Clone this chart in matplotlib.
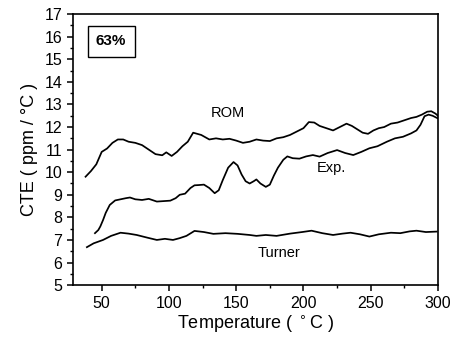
import matplotlib.pyplot as plt
from matplotlib.ticker import MultipleLocator

plt.rcParams['font.family'] = ['Liberation Sans', 'DejaVu Sans']

# ROM model prediction
rom_t = [38, 42, 46, 50, 54, 58, 62, 66, 70, 75, 80, 85, 90, 95, 98, 102, 106,
         110, 114, 118, 121, 124, 127, 130, 135, 140, 145, 150, 155, 160, 165,
         170, 175, 180, 185, 190, 195, 200, 204, 208, 212, 217, 222, 227, 232,
         236, 240, 244, 248, 252, 256, 260, 265, 270, 275, 280, 284, 288, 292,
         295, 298, 300]
rom_cte = [9.8, 10.05, 10.35, 10.9, 11.05, 11.3, 11.45, 11.45, 11.35, 11.3,
           11.2, 11.0, 10.8, 10.75, 10.88, 10.72, 10.9, 11.15, 11.35, 11.75,
           11.7, 11.65, 11.55, 11.45, 11.5, 11.45, 11.48, 11.4, 11.3, 11.35,
           11.45, 11.4, 11.38, 11.5, 11.55, 11.65, 11.8, 11.95, 12.22, 12.2,
           12.05, 11.95, 11.85, 12.0, 12.15, 12.05, 11.9, 11.75, 11.7, 11.85,
           11.95, 12.0, 12.15, 12.2, 12.3, 12.4, 12.45, 12.55, 12.68, 12.7,
           12.6, 12.5]

# experimental data
exp_t = [45, 47.5, 49, 51, 53, 56, 60, 64, 68, 71, 75, 80, 85, 91, 96, 101,
         105, 108, 112, 116, 119, 122, 126, 130, 134, 137, 140, 144, 148, 151,
         154, 157, 160, 163, 165, 168, 172, 175, 178, 181, 185, 188, 192, 197,
         202, 207, 212, 218, 225, 231, 237, 243, 249, 255, 262, 268, 274, 280,
         284, 287, 290, 293, 296, 300]
exp_cte = [7.3, 7.44, 7.6, 7.88, 8.2, 8.55, 8.75, 8.8, 8.85, 8.88, 8.8, 8.77,
           8.82, 8.7, 8.72, 8.74, 8.85, 9.0, 9.05, 9.3, 9.42, 9.43, 9.45, 9.3,
           9.07, 9.2, 9.65, 10.2, 10.45, 10.3, 9.9, 9.6, 9.5, 9.6, 9.68, 9.5,
           9.35, 9.45, 9.85, 10.2, 10.55, 10.7, 10.62, 10.6, 10.7, 10.76, 10.69,
           10.85, 10.98, 10.85, 10.76, 10.9, 11.06, 11.15, 11.35, 11.5, 11.57,
           11.72, 11.85, 12.1, 12.48, 12.55, 12.5, 12.38]

# Turner model prediction
turner_t = [39, 44, 51, 57, 64, 70, 76, 84, 91, 97, 103, 108, 113, 119, 126,
            133, 142, 151, 160, 165, 172, 180, 190, 199, 206, 214, 222, 229,
            235, 242, 249, 256, 265, 272, 279, 284, 291, 299]
turner_cte = [6.68, 6.85, 7.0, 7.18, 7.32, 7.28, 7.22, 7.1, 7.0, 7.05, 7.0,
              7.08, 7.18, 7.4, 7.35, 7.27, 7.3, 7.27, 7.22, 7.18, 7.22, 7.18,
              7.28, 7.35, 7.41, 7.3, 7.22, 7.28, 7.32, 7.25, 7.15, 7.25, 7.32,
              7.3, 7.38, 7.41, 7.35, 7.37]

fig = plt.figure(figsize=(4.52, 3.37), dpi=100)
ax = fig.add_axes([0.161, 0.154, 0.808, 0.804])

for t, c in [(rom_t, rom_cte), (exp_t, exp_cte), (turner_t, turner_cte)]:
    ax.plot(t, c, color='black', linewidth=1.25)

ax.set_xlim(28.5, 300)
ax.set_ylim(5, 17)
ax.xaxis.set_major_locator(MultipleLocator(50))
ax.xaxis.set_minor_locator(MultipleLocator(25))
ax.yaxis.set_major_locator(MultipleLocator(1))
ax.yaxis.set_minor_locator(MultipleLocator(0.5))
ax.tick_params(which='major', direction='out', length=4, width=1.1,
               labelsize=11.5, top=False, right=False)
ax.tick_params(which='minor', direction='out', length=2.5, width=1.0,
               top=False, right=False)
for s in ax.spines.values():
    s.set_linewidth(1.2)

ax.set_xlabel('Temperature ( $^\\circ$C )', fontsize=13, labelpad=2)
ax.set_ylabel('CTE ( ppm / \u00b0C )', fontsize=13, labelpad=5)

ax.text(144, 12.63, 'ROM', fontsize=10.5, ha='center', va='center')
ax.text(221, 10.17, 'Exp.', fontsize=10.5, ha='center', va='center')
ax.text(182, 6.42, 'Turner', fontsize=10.5, ha='center', va='center')
ax.text(57, 15.8, '63%', fontsize=11, fontweight='bold', ha='center',
        va='center', bbox=dict(boxstyle='square,pad=0.55', fc='white',
                               ec='black', lw=1.0))

fig.savefig('out.png', dpi=100)
